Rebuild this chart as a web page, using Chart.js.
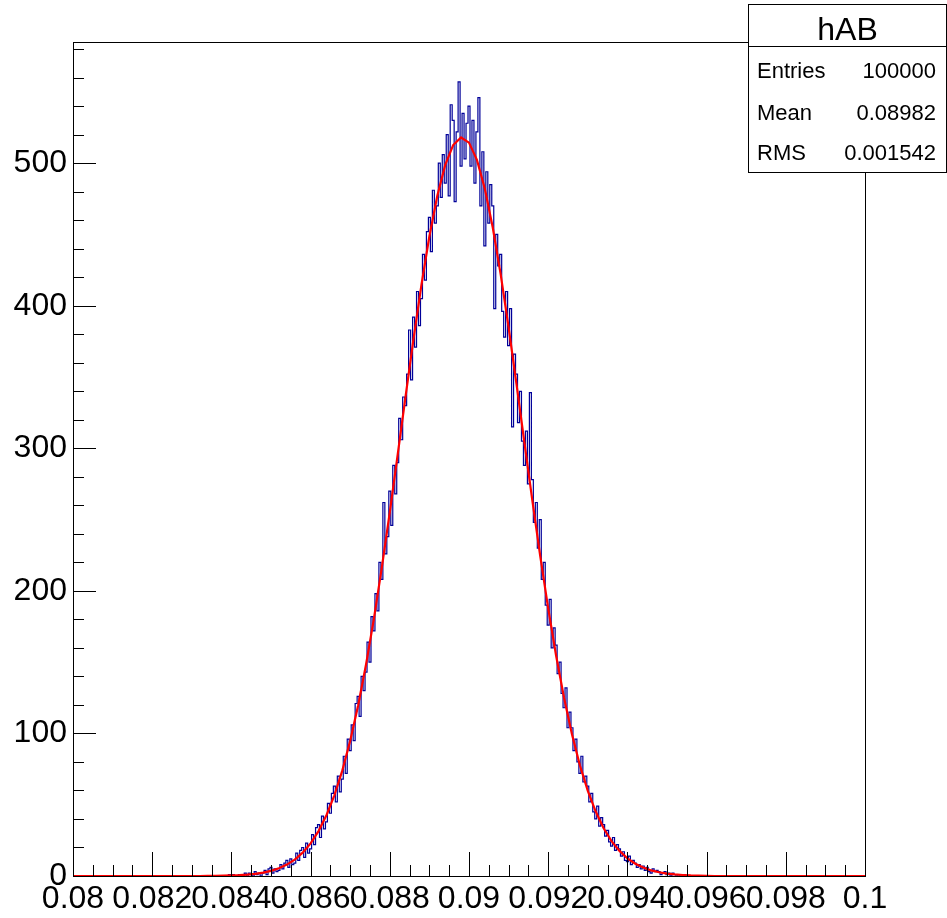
<!DOCTYPE html>
<html>
<head>
<meta charset="utf-8">
<script src="https://cdn.jsdelivr.net/npm/chart.js@4.4.1/dist/chart.umd.min.js"></script>
<style>
  html, body { margin: 0; padding: 0; background: #fff; }
  canvas { display: block; }
</style>
</head>
<body>
<canvas id="histChart" width="947" height="918"></canvas>
<script>
// histogram hAB: bin contents
const histStart = 0.0836;
const histStep = 0.00005;
const histCounts = [
  0, 0, 0, 0,   0, 0, 0, 1,   0, 1, 0, 0,   1, 0, 0, 2,
  0, 2, 1, 0,   3, 1, 2, 0,   2, 4, 1, 5,   6, 2, 5, 3,
  4, 8, 5, 9,   11, 6, 12, 8,   9, 16, 11, 18,   20, 13, 23, 16,
  19, 29, 22, 34,   36, 27, 42, 33,   38, 51, 44, 58,   63, 52, 70, 59,
  68, 84, 72, 96,   88, 106, 95, 121,   126, 112, 140, 130,   143, 164, 150, 182,
  172, 198, 186, 220,   208, 262, 226, 238,   270, 246, 288, 268,   290, 321, 306, 336,
  330, 352, 383, 348,   392, 371, 410, 386,   405, 436, 418, 452,   462, 438, 481, 458,
  470, 500, 476, 506,   486, 520, 477, 541,   530, 473, 522, 557,   498, 535, 503, 528,
  540, 498, 530, 486,   522, 546, 470, 508,   442, 494, 458, 485,   470, 398, 450, 428,
  436, 396, 378, 410,   372, 398, 315, 366,   352, 318, 340, 305,   288, 312, 275, 339,
  278, 248, 262, 230,   250, 208, 220, 190,   176, 194, 160, 174,   162, 142, 150, 128,
  118, 132, 104, 115,   104, 88, 96, 80,   72, 84, 66, 70,   63, 52, 58, 45,
  40, 49, 35, 41,   36, 28, 32, 24,   21, 27, 18, 22,   19, 14, 17, 11,
  10, 14, 8, 11,   9, 6, 8, 5,   7, 4, 6, 3,   2, 5, 3, 4,
  3, 1, 2, 3,   1, 2, 0, 2,   1, 0, 1, 0,   0, 1, 0, 0,
  0, 0, 0, 0,   0
];

// gaus fit curve, sampled like ROOT's polyline
const fitStart = 0.08;
const fitStep = 0.0002;
const fitValues = [
  0, 0, 0, 0, 0, 0, 0, 0, 0, 0, 0, 0, 0, 0, 0, 0, 0,
  0.08, 0.13, 0.22, 0.37, 0.61, 0.98, 1.54, 2.38, 3.63, 5.42, 7.98, 11.5, 16.4, 22.9,
  31.5, 42.6, 56.6, 73.9, 94.8, 119.6, 148.3, 180.7, 216.7, 255.3, 295.7, 336.8, 377.0,
  414.8, 448.7, 477.2, 498.8, 512.7, 518.0, 514.4, 502.3, 482.1, 454.9, 422.0, 384.8,
  344.9, 303.9, 263.3, 224.2, 187.7, 154.5, 125.0, 99.4, 77.7, 59.7, 45.2, 33.5, 24.5,
  17.6, 12.4, 8.6, 5.9, 3.9, 2.6, 1.7, 1.1, 0.7, 0.4, 0.25, 0.15,
  0, 0, 0, 0, 0, 0, 0, 0, 0, 0, 0, 0, 0, 0, 0, 0, 0, 0, 0, 0
];

const xTickValues = [0.08, 0.082, 0.084, 0.086, 0.088, 0.09, 0.092, 0.094, 0.096, 0.098, 0.1];
const xTickLabels = ['0.08', '0.082', '0.084', '0.086', '0.088', '0.09', '0.092', '0.094', '0.096', '0.098', '0.1'];
const yTickValues = [0, 100, 200, 300, 400, 500];
const yTickLabels = ['0', '100', '200', '300', '400', '500'];

const statsTitle = 'hAB';
const statsNames = ['Entries', 'Mean', 'RMS'];
const statsValues = ['100000', '0.08982', '0.001542'];

const xMin = 0.08, xMax = 0.1, yMin = 0, yMax = 585;
const FONT = "'Liberation Sans', Arial, Helvetica, sans-serif";

const histPoints = [{ x: xMin, y: 0 }];
histCounts.forEach((c, i) => histPoints.push({ x: histStart + i * histStep, y: c }));
histPoints.push({ x: xMax, y: 0 });

const fitPoints = fitValues.map((v, i) => ({ x: fitStart + i * fitStep, y: v }));

// frame, inner tick marks and the stats box
const rootStyle = {
    id: 'rootStyle',
    afterDatasetsDraw(chart) {
        const { ctx, chartArea: a, scales: { x, y } } = chart;
        ctx.save();
        ctx.strokeStyle = '#000';
        ctx.lineWidth = 1;
        ctx.strokeRect(Math.round(a.left) + 0.5, Math.round(a.top) + 0.5,
            Math.round(a.right - a.left), Math.round(a.bottom - a.top));

        ctx.beginPath();
        for (let i = 0; i <= 40; i++) {
            const v = xMin + i * 0.0005;
            const px = Math.round(x.getPixelForValue(v)) + 0.5;
            const len = i % 4 === 0 ? 24 : 11;
            ctx.moveTo(px, a.bottom);
            ctx.lineTo(px, a.bottom - len);
        }
        for (let v = 0; v <= 580; v += 20) {
            const py = Math.round(y.getPixelForValue(v)) + 0.5;
            const len = v % 100 === 0 ? 23 : 11;
            ctx.moveTo(a.left, py);
            ctx.lineTo(a.left + len, py);
        }
        ctx.stroke();
        ctx.restore();
    },
    afterDraw(chart) {
        const { ctx } = chart;
        const bx = 748.5, by = 4.5, bw = 198, bh = 168, sep = 46.5;
        ctx.save();
        ctx.fillStyle = '#fff';
        ctx.fillRect(bx, by, bw, bh);
        ctx.strokeStyle = '#000';
        ctx.lineWidth = 1;
        ctx.strokeRect(bx, by, bw, bh);
        ctx.beginPath();
        ctx.moveTo(bx, sep);
        ctx.lineTo(bx + bw, sep);
        ctx.stroke();

        ctx.fillStyle = '#000';
        ctx.textBaseline = 'alphabetic';
        ctx.font = '32px ' + FONT;
        ctx.textAlign = 'center';
        ctx.fillText(statsTitle, bx + bw / 2, 40);

        ctx.font = '22px ' + FONT;
        const rows = [78, 119.5, 159.5];
        statsNames.forEach((name, i) => {
            ctx.textAlign = 'left';
            ctx.fillText(name, 757, rows[i]);
            ctx.textAlign = 'right';
            ctx.fillText(statsValues[i], 936, rows[i]);
        });
        ctx.restore();
    }
};

const histCtx = document.getElementById('histChart');
new Chart(histCtx, {
    type: 'line',
    data: {
        datasets: [
            // fit first so it is painted over the histogram
            { label: 'fit', data: fitPoints, borderColor: '#ff0000', borderWidth: 2.2,
              tension: 0, pointRadius: 0, fill: false, clip: false },
            { label: 'hAB', data: histPoints, borderColor: '#000099', borderWidth: 1.2,
              stepped: 'middle', pointRadius: 0, fill: false, clip: false }
        ]
    },
    options: {
        responsive: false,
        animation: false,
        events: [],
        layout: { padding: { top: 42, right: 82, left: 0, bottom: 0 } },
        plugins: { legend: { display: false }, tooltip: { enabled: false } },
        scales: {
            x: {
                type: 'linear', min: xMin, max: xMax,
                grid: { display: false, drawTicks: false },
                border: { display: false },
                afterBuildTicks: s => { s.ticks = xTickValues.map(v => ({ value: v })); },
                afterFit: s => { s.height = 42; },
                ticks: {
                    autoSkip: false, maxRotation: 0, minRotation: 0, padding: 4,
                    color: '#000', font: { family: FONT, size: 32 },
                    callback: (v, i) => xTickLabels[i]
                }
            },
            y: {
                type: 'linear', min: yMin, max: yMax,
                grid: { display: false, drawTicks: false },
                border: { display: false },
                afterBuildTicks: s => { s.ticks = yTickValues.map(v => ({ value: v })); },
                afterFit: s => { s.width = 73; },
                ticks: {
                    autoSkip: false, padding: 6,
                    color: '#000', font: { family: FONT, size: 32 },
                    callback: (v, i) => yTickLabels[i]
                }
            }
        }
    },
    plugins: [rootStyle]
});
</script>
</body>
</html>
